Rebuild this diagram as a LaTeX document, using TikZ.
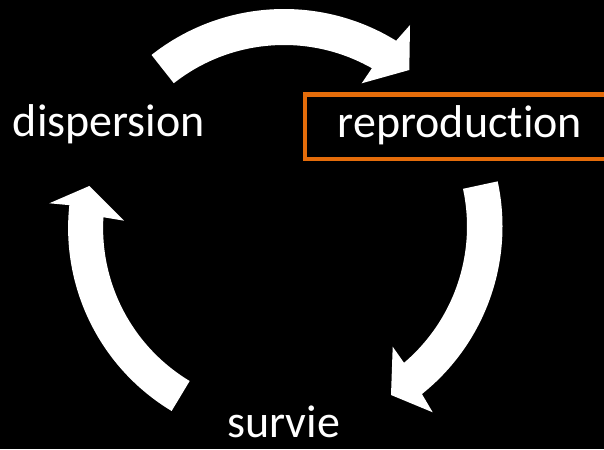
\documentclass[tikz,border=0pt]{standalone}
\usepackage{fontspec}
\setmainfont[Ligatures=NoCommon]{Carlito}
\definecolor{boxorange}{RGB}{228,108,10}
\begin{document}
\begin{tikzpicture}[x=1pt,y=1pt,
  cycletext/.style={text=white, font=\fontsize{46}{50}\selectfont, inner sep=0pt, anchor=base},
  cyclearrow/.style={fill=white, draw=none},
  framebox/.style={draw=boxorange, line width=4.5pt}]
  % canvas
  \fill[black] (0,0) rectangle (604,449);
  \useasboundingbox (0,0) rectangle (604,449);
  \clip (0,0) rectangle (604,449);

  % stage labels
  \node[cycletext] (disp) at (108.9,312) {dispersion};
  \node[cycletext] (repr) at (459.9,311) {reproduction};
  \node[cycletext] (surv) at (283.5,11.3) {survie};

  % highlight frame around the current stage
  \coordinate (frameSW) at (305,289.8);
  \coordinate (frameNE) at (615,354.5);
  \draw[framebox] (frameSW) rectangle (frameNE);

  % centres of the three curved arrows
  \coordinate (ctop) at (284,226);
  \coordinate (cright) at (288,222.5);
  \coordinate (cleft) at (281.6,221);

  % dispersion -> reproduction
  \fill[cyclearrow] ([shift={(ctop)}]128.25:214) arc[start angle=128.25, end angle=58.4, radius=214]
    -- (410,424) -- (409.3,379) -- (361.7,365.7)
    -- ([shift={(ctop)}]60.4:178) arc[start angle=60.4, end angle=128.25, radius=178] -- cycle;

  % reproduction -> survie
  \fill[cyclearrow] ([shift={(cright)}]12.15:214.5) arc[start angle=12.15, end angle=-51.36, radius=214.5]
    -- (432.7,36.7) -- (391,54) -- (392.7,102.3)
    -- ([shift={(cright)}]-49.6:179) arc[start angle=-49.6, end angle=12.15, radius=179] -- cycle;

  % survie -> dispersion
  \fill[cyclearrow] ([shift={(cleft)}]239:213.5) arc[start angle=239, end angle=173.85, radius=213.5]
    -- (49.3,245.7) -- (89.3,263) -- (124,228.3)
    -- ([shift={(cleft)}]176.55:178.5) arc[start angle=176.55, end angle=239, radius=178.5] -- cycle;
\end{tikzpicture}
\end{document}
